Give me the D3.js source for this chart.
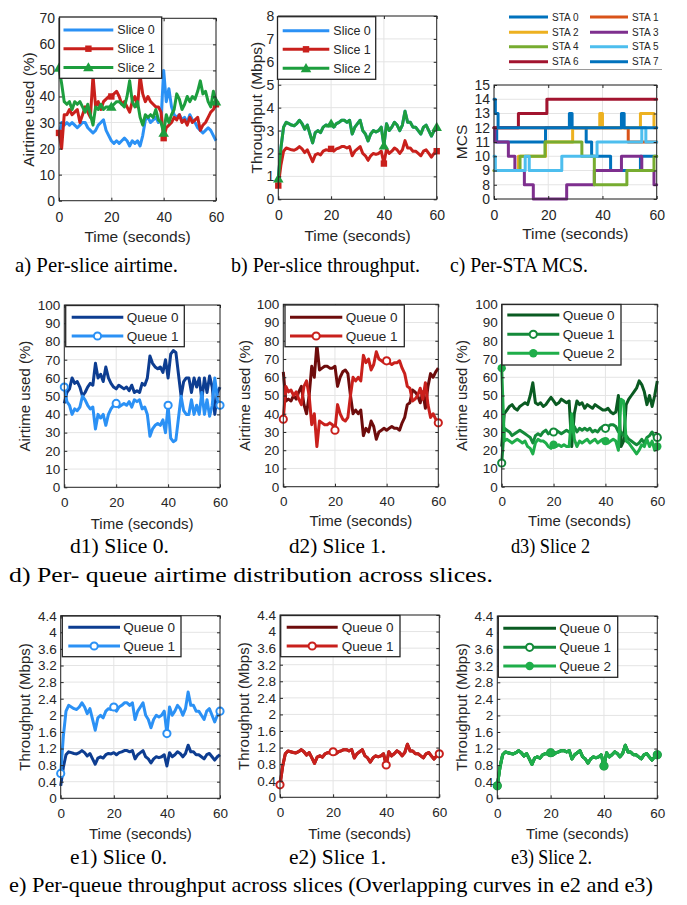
<!DOCTYPE html>
<html><head><meta charset="utf-8">
<script src="https://cdn.jsdelivr.net/npm/d3@7"></script>
<style>body{margin:0;background:#fff;} svg{display:block;}</style>
</head><body>
<svg id="fig" width="687" height="905"></svg>
<script>
// ---------------- DATA ----------------
const timeSec = [0,1,2,3,4,5,6,7,8,9,10,11,12,13,14,15,16,17,18,19,20,21,22,23,24,25,26,27,28,29,30,31,32,33,34,35,36,37,38,39,40,41,42,43,44,45,46,47,48,49,50,51,52,53,54,55,56,57,58,59,60];
const xTickValues = [0,20,40,60];
const markerIdx = [0,20,40,60];

// a) per-slice airtime (%)
const airSlice0 = [25,30,29,30,29,30,29,28,29,30, 30,28,27,26,27,29,30,31,27,25, 23,22,23,22,23,24,23,21,23,22, 23,21,25,31,32,30,31,32,30,31, 50,38,43,36,33,32,33,31,32,30, 33,31,30,28,27,26,27,28,27,25, 23];
const airSlice1 = [26,20,33,33,35,33,34,35,30,33, 36,34,32,48,36,38,35,38,39,40, 40,41,42,40,37,38,36,34,38,40, 36,48,41,38,40,38,37,36,36,34, 24,28,29,30,32,31,33,30,31,29, 32,30,31,32,27,29,30,32,34,35, 37];
const airSlice2 = [51,45,38,37,38,35,38,37,38,36, 34,37,33,29,36,35,37,35,36,36, 36,37,38,38,37,36,40,46,38,36, 38,32,29,33,32,33,32,35,31,30, 26,33,30,33,35,41,39,35,37,40, 38,40,39,42,46,41,42,38,36,42, 38];

// b) per-slice throughput (Mbps)
const tputSlice0 = [0.90,2.25,3.15,3.36,3.30,3.24,3.21,3.30,3.45,3.30, 3.06,3.24,2.85,2.46,2.91,3.00,2.91,3.15,3.24,3.21, 3.30,3.15,3.30,3.36,3.45,3.45,3.36,3.45,2.85,3.15, 3.30,3.45,3.00,2.85,2.55,2.85,3.00,2.94,3.00,3.15, 2.34,3.30,3.00,3.15,3.36,3.24,3.00,3.24,3.84,3.36, 3.36,3.15,3.15,3.00,2.85,3.15,3.24,3.00,2.76,3.00, 3.15];
const tputSlice1 = [0.60,1.50,2.10,2.24,2.20,2.16,2.14,2.20,2.30,2.20, 2.04,2.16,1.90,1.64,1.94,2.00,1.94,2.10,2.16,2.14, 2.20,2.10,2.20,2.24,2.30,2.30,2.24,2.30,1.90,2.10, 2.20,2.30,2.00,1.90,1.70,1.90,2.00,1.96,2.00,2.10, 1.56,2.20,2.00,2.10,2.24,2.16,2.00,2.16,2.56,2.24, 2.24,2.10,2.10,2.00,1.90,2.10,2.16,2.00,1.84,2.00, 2.10];
const tputSlice2 = [0.90,2.25,3.15,3.36,3.30,3.24,3.21,3.30,3.45,3.30, 3.06,3.24,2.85,2.46,2.91,3.00,2.91,3.15,3.24,3.21, 3.30,3.15,3.30,3.36,3.45,3.45,3.36,3.45,2.85,3.15, 3.30,3.45,3.00,2.85,2.55,2.85,3.00,2.94,3.00,3.15, 2.34,3.30,3.00,3.15,3.36,3.24,3.00,3.24,3.84,3.36, 3.36,3.15,3.15,3.00,2.85,3.15,3.24,3.00,2.76,3.00, 3.15];

// c) per-STA MCS, [time, mcs] step changes
const mcsSta0 = [[0,12],[1,11],[19,12],[34,11],[36,10],[43,9],[54,10],[60,10]];
const mcsSta1 = [[0,12],[49.5,11],[60,11]];
const mcsSta2 = [[0,9],[9,10],[19,11],[29,12],[39,13],[40,12],[54,13],[59,12],[60,12]];
const mcsSta3 = [[0,12],[0.3,11],[5.3,10],[7.7,9],[11.2,8],[14.5,0],[26.8,8],[37,9],[47,10],[54.5,9],[59,8],[60,8]];
const mcsSta4 = [[0,9],[9.6,10],[18.8,11],[32.4,10],[37,8],[49,9],[59,10],[60,10]];
const mcsSta5 = [[0,10],[0.5,9],[11.5,10],[13,9],[25,10],[38,11],[54.5,12],[56,11],[60,11]];
const mcsSta6 = [[0,12],[9,13],[19.5,14],[60,14]];
const mcsSta7 = [[0,14],[0.5,13],[1.5,12],[27.8,13],[28.8,12],[47,13],[48,12],[60,12]];
const mcsTickValues = [0,8,9,10,11,12,13,14,15];
const staNames = ["STA 0","STA 1","STA 2","STA 3","STA 4","STA 5","STA 6","STA 7"];

// d) per-queue airtime (%)
const d1Queue0 = [46,52,54,60,57,58,55,50,52,55, 57,56,68,60,62,58,66,60,57,55, 54,56,55,54,55,53,56,52,53,52, 57,56,60,72,68,66,65,66,63,70, 60,73,75,74,62,50,58,60,60,52, 60,55,60,48,60,52,61,55,40,52, 55];
const d1Queue1 = [55,47,45,40,43,42,44,50,48,45, 43,44,32,40,38,40,34,40,43,45, 46,44,45,46,45,47,44,48,47,48, 43,44,40,28,32,34,35,34,37,30, 45,27,25,26,38,50,42,40,40,48, 40,45,40,52,40,48,39,45,60,48, 45];
const d2Queue0 = [63,47,48,47,50,48,52,55,45,40, 50,66,60,78,64,65,66,66,65,65, 66,55,60,63,64,62,50,40,42,40, 42,28,32,30,36,33,26,30,31,32, 31,32,33,32,32,31,35,38,45,46, 53,52,50,46,52,43,55,62,60,63, 65];
const d2Queue1 = [37,55,52,53,50,52,48,45,55,58, 50,34,40,22,36,35,34,34,35,34, 31,45,40,37,36,38,50,60,58,60, 58,72,68,70,64,67,74,70,69,68, 69,68,67,68,68,69,65,62,55,54, 47,48,50,54,48,57,45,38,40,37, 35];
const d3Queue0 = [22,40,42,44,45,43,42,44,45,46, 45,50,57,46,45,46,44,45,47,49, 47,45,46,48,47,46,47,22,40,47, 45,46,43,45,44,43,45,44,43,42, 42,43,41,40,41,50,22,25,45,48, 50,52,54,58,56,52,45,50,44,50, 58];
const d3Queue1 = [13,32,31,30,28,29,30,31,30,29, 28,27,24,28,29,28,30,31,29,30, 30,31,30,29,30,31,30,30,33,30, 32,31,32,31,32,30,31,30,32,33, 32,33,34,34,33,30,30,28,28,26, 25,24,23,24,26,24,27,28,30,27, 27];
const d3Queue2 = [65,25,26,25,24,25,26,25,24,25, 22,21,18,24,26,25,25,24,22,21, 23,22,23,22,23,22,22,40,26,22, 25,24,25,26,24,25,26,24,25,26, 25,24,25,26,25,20,48,47,25,24, 22,20,18,20,23,22,26,22,25,20, 22];

// e) per-queue throughput (Mbps)
const e1Queue0 = [0.30,0.75,1.05,1.12,1.10,1.08,1.07,1.10,1.15,1.10, 1.02,1.08,0.95,0.82,0.97,1.00,0.97,1.05,1.08,1.07, 1.10,1.05,1.10,1.12,1.15,1.15,1.12,1.15,0.95,1.05, 1.10,1.15,1.00,0.95,0.85,0.95,1.00,0.98,1.00,1.05, 0.78,1.10,1.00,1.05,1.12,1.08,1.00,1.08,1.28,1.12, 1.12,1.05,1.05,1.00,0.95,1.05,1.08,1.00,0.92,1.00, 1.05];
const e1Queue1 = [0.60,1.50,2.10,2.24,2.20,2.16,2.14,2.20,2.30,2.20, 2.04,2.16,1.90,1.64,1.94,2.00,1.94,2.10,2.16,2.14, 2.20,2.10,2.20,2.24,2.30,2.30,2.24,2.30,1.90,2.10, 2.20,2.30,2.00,1.90,1.70,1.90,2.00,1.96,2.00,2.10, 1.56,2.20,2.00,2.10,2.24,2.16,2.00,2.16,2.56,2.24, 2.24,2.10,2.10,2.00,1.90,2.10,2.16,2.00,1.84,2.00, 2.10];
const e2Queue0 = [0.30,0.75,1.05,1.12,1.10,1.08,1.07,1.10,1.15,1.10, 1.02,1.08,0.95,0.82,0.97,1.00,0.97,1.05,1.08,1.07, 1.10,1.05,1.10,1.12,1.15,1.15,1.12,1.15,0.95,1.05, 1.10,1.15,1.00,0.95,0.85,0.95,1.00,0.98,1.00,1.05, 0.78,1.10,1.00,1.05,1.12,1.08,1.00,1.08,1.28,1.12, 1.12,1.05,1.05,1.00,0.95,1.05,1.08,1.00,0.92,1.00, 1.05];
const e2Queue1 = [0.30,0.75,1.05,1.12,1.10,1.08,1.07,1.10,1.15,1.10, 1.02,1.08,0.95,0.82,0.97,1.00,0.97,1.05,1.08,1.07, 1.10,1.05,1.10,1.12,1.15,1.15,1.12,1.15,0.95,1.05, 1.10,1.15,1.00,0.95,0.85,0.95,1.00,0.98,1.00,1.05, 0.78,1.10,1.00,1.05,1.12,1.08,1.00,1.08,1.28,1.12, 1.12,1.05,1.05,1.00,0.95,1.05,1.08,1.00,0.92,1.00, 1.05];
const e3Queue0 = [0.30,0.75,1.05,1.12,1.10,1.08,1.07,1.10,1.15,1.10, 1.02,1.08,0.95,0.82,0.97,1.00,0.97,1.05,1.08,1.07, 1.10,1.05,1.10,1.12,1.15,1.15,1.12,1.15,0.95,1.05, 1.10,1.15,1.00,0.95,0.85,0.95,1.00,0.98,1.00,1.05, 0.78,1.10,1.00,1.05,1.12,1.08,1.00,1.08,1.28,1.12, 1.12,1.05,1.05,1.00,0.95,1.05,1.08,1.00,0.92,1.00, 1.05];
const e3Queue1 = [0.30,0.75,1.05,1.12,1.10,1.08,1.07,1.10,1.15,1.10, 1.02,1.08,0.95,0.82,0.97,1.00,0.97,1.05,1.08,1.07, 1.10,1.05,1.10,1.12,1.15,1.15,1.12,1.15,0.95,1.05, 1.10,1.15,1.00,0.95,0.85,0.95,1.00,0.98,1.00,1.05, 0.78,1.10,1.00,1.05,1.12,1.08,1.00,1.08,1.28,1.12, 1.12,1.05,1.05,1.00,0.95,1.05,1.08,1.00,0.92,1.00, 1.05];
const e3Queue2 = [0.30,0.75,1.05,1.12,1.10,1.08,1.07,1.10,1.15,1.10, 1.02,1.08,0.95,0.82,0.97,1.00,0.97,1.05,1.08,1.07, 1.10,1.05,1.10,1.12,1.15,1.15,1.12,1.15,0.95,1.05, 1.10,1.15,1.00,0.95,0.85,0.95,1.00,0.98,1.00,1.05, 0.78,1.10,1.00,1.05,1.12,1.08,1.00,1.08,1.28,1.12, 1.12,1.05,1.05,1.00,0.95,1.05,1.08,1.00,0.92,1.00, 1.05];

const airTicks = [0,10,20,30,40,50,60,70];
const tputTicks = [0,1,2,3,4,5,6,7,8];
const pctTicks = [0,10,20,30,40,50,60,70,80,90,100];
const qTputTicks = [0,0.4,0.8,1.2,1.6,2,2.4,2.8,3.2,3.6,4,4.4];

// ---------------- STYLE ----------------
const TXT = '#262626', GRID = '#e4e4e4';
const C_S0 = '#2b91f5', C_S1 = '#c9201c', C_S2 = '#1d9e3e';
const C_B0 = '#0d3d91', C_B1 = '#2b91f5';
const C_R0 = '#6e0c0c', C_R1 = '#c9201c';
const C_G0 = '#0a5b22', C_G1 = '#148a3a', C_G2 = '#1fae4a';
const STA_COLORS = ['#0072BD','#D95319','#EDB120','#7E2F8E','#77AC30','#4DBEEE','#A2142F','#0072BD'];
const SANS = "'Liberation Sans', Arial, Helvetica, sans-serif";
const SERIF = "'Liberation Serif', 'Times New Roman', serif";

const svg = d3.select('#fig');
svg.append('rect').attr('width',687).attr('height',905).attr('fill','#fff');

function drawMarker(g, type, color, cx, cy) {
  if (!type) return;
  if (type === 'square') {
    g.append('rect').attr('x', cx-3.2).attr('y', cy-3.2).attr('width',6.4).attr('height',6.4).attr('fill',color);
  } else if (type === 'triangle') {
    g.append('path').attr('d', d3.symbol(d3.symbolTriangle).size(48)()).attr('transform',`translate(${cx},${cy+0.8})`).attr('fill',color);
  } else if (type === 'circleOpen') {
    g.append('circle').attr('cx',cx).attr('cy',cy).attr('r',3.6).attr('fill','#fff').attr('stroke',color).attr('stroke-width',2);
  } else if (type === 'circleFilled') {
    g.append('circle').attr('cx',cx).attr('cy',cy).attr('r',4.2).attr('fill',color);
  }
}

function panel(o) {
  const g = svg.append('g');
  const x = d3.scaleLinear().domain([0,60]).range([o.left, o.right]);
  const y = o.y;
  g.selectAll('line.gx').data(xTickValues).join('line').attr('class','gx')
    .attr('x1',d=>x(d)).attr('x2',d=>x(d)).attr('y1',o.top).attr('y2',o.bottom)
    .attr('stroke',GRID).attr('stroke-width',1);
  g.selectAll('line.gy').data(o.yTicks).join('line').attr('class','gy')
    .attr('x1',o.left).attr('x2',o.right).attr('y1',d=>y(d)).attr('y2',d=>y(d))
    .attr('stroke',GRID).attr('stroke-width',1);
  const sg = g.append('g');
  o.series.forEach(s => {
    if (s.steps) {
      const line = d3.line().x(d=>x(d[0])).y(d=>y(d[1])).curve(d3.curveStepAfter);
      sg.append('path').attr('d', line(s.steps)).attr('fill','none').attr('stroke',s.color)
        .attr('stroke-width',s.width||3).attr('stroke-linejoin','round').attr('stroke-linecap','round');
    } else {
      const line = d3.line().x((d,i)=>x(timeSec[i])).y(d=>y(d));
      sg.append('path').attr('d', line(s.values)).attr('fill','none').attr('stroke',s.color)
        .attr('stroke-width',s.width||3).attr('stroke-linejoin','round');
      if (s.marker) markerIdx.forEach(i => drawMarker(sg, s.marker, s.color, x(timeSec[i]), y(s.values[i])));
    }
  });
  g.append('rect').attr('x',o.left).attr('y',o.top).attr('width',o.right-o.left).attr('height',o.bottom-o.top)
    .attr('fill','none').attr('stroke',TXT).attr('stroke-width',1);
  const tf = o.tickFont;
  const ax = g.append('g').attr('transform',`translate(0,${o.bottom})`)
    .call(d3.axisBottom(x).tickValues(xTickValues).tickSize(-3).tickPadding(o.xPad));
  const ay = g.append('g').attr('transform',`translate(${o.left},0)`)
    .call(d3.axisLeft(y).tickValues(o.yTicks).tickSize(-3).tickPadding(4).tickFormat(o.yFmt || (d=>String(d))));
  const at = g.append('g').attr('transform',`translate(0,${o.top})`)
    .call(d3.axisTop(x).tickValues(xTickValues).tickSize(-3).tickFormat(''));
  const ar = g.append('g').attr('transform',`translate(${o.right},0)`)
    .call(d3.axisRight(y).tickValues(o.yTicks).tickSize(-3).tickFormat(''));
  [ax,ay,at,ar].forEach(a => {
    a.select('.domain').remove();
    a.selectAll('line').attr('stroke',TXT);
    a.selectAll('text').attr('fill',TXT).style('font-family',SANS).style('font-size',tf+'px');
  });
  g.append('text').attr('x',(o.left+o.right)/2).attr('y',o.xLabelY).attr('text-anchor','middle')
    .attr('fill',TXT).style('font-family',SANS).style('font-size',o.labelFont+'px').text('Time (seconds)');
  const cy = (o.top+o.bottom)/2;
  g.append('text').attr('transform',`translate(${o.yLabelX},${cy}) rotate(-90)`).attr('dy','0.35em')
    .attr('text-anchor','middle').attr('fill',TXT).style('font-family',SANS).style('font-size',o.labelFont+'px').text(o.yLabel);
  if (o.legend) {
    const L = o.legend;
    g.append('rect').attr('x',L.x0).attr('y',L.y0).attr('width',L.x1-L.x0).attr('height',L.y1-L.y0)
      .attr('fill','#fff').attr('stroke',TXT).attr('stroke-width',1.3);
    L.items.forEach((it,k) => {
      const yy = L.ys[k];
      g.append('line').attr('x1',L.lx0).attr('x2',L.lx1).attr('y1',yy).attr('y2',yy)
        .attr('stroke',it.color).attr('stroke-width',3);
      drawMarker(g, it.marker, it.color, (L.lx0+L.lx1)/2, yy);
      g.append('text').attr('x',L.tx).attr('y',yy).attr('dy','0.35em').attr('fill',TXT)
        .style('font-family',SANS).style('font-size',L.font+'px').text(it.label);
    });
  }
}

const lin = (dom, r0, r1) => d3.scaleLinear().domain(dom).range([r0, r1]);

panel({left:59,right:216,top:18.3,bottom:200.7,y:lin([0,70],200.7,18.3),yTicks:airTicks,
  yLabel:'Airtime used (%)',yLabelX:28.3,xLabelY:242,tickFont:14,labelFont:15.5,xPad:11,
  series:[{values:airSlice0,color:C_S0},{values:airSlice1,color:C_S1,marker:'square'},{values:airSlice2,color:C_S2,marker:'triangle'}],
  legend:{x0:59.5,y0:17,x1:161.7,y1:78.3,ys:[30,48.7,67.5],lx0:63.5,lx1:113.3,tx:117.3,font:12.5,
    items:[{label:'Slice 0',color:C_S0},{label:'Slice 1',color:C_S1,marker:'square'},{label:'Slice 2',color:C_S2,marker:'triangle'}]}});
panel({left:278.3,right:436.7,top:16,bottom:199.3,y:lin([0,8],199.3,16),yTicks:tputTicks,
  yLabel:'Throughput (Mbps)',yLabelX:256.7,xLabelY:240.5,tickFont:14,labelFont:15.5,xPad:11,
  series:[{values:tputSlice0,color:C_S0},{values:tputSlice1,color:C_S1,marker:'square'},{values:tputSlice2,color:C_S2,marker:'triangle'}],
  legend:{x0:277.5,y0:16.7,x1:375.7,y1:79.3,ys:[30.7,49.3,68.3],lx0:282.7,lx1:329.3,tx:333.3,font:12.5,
    items:[{label:'Slice 0',color:C_S0},{label:'Slice 1',color:C_S1,marker:'square'},{label:'Slice 2',color:C_S2,marker:'triangle'}]}});
const mcsY = d3.scalePoint().domain(mcsTickValues).range([199,85]);
const mcsAll = [mcsSta0,mcsSta1,mcsSta2,mcsSta3,mcsSta4,mcsSta5,mcsSta6,mcsSta7];
panel({left:494,right:656.7,top:85,bottom:199,y:mcsY,yTicks:mcsTickValues,
  yLabel:'MCS',yLabelX:462,xLabelY:238.5,tickFont:14,labelFont:15.5,xPad:11,
  series: mcsAll.map((s,i)=>({steps:s,color:STA_COLORS[i]}))});
(function(){
  const g = svg.append('g');
  const rows = [17,32.3,46.7,61.7];
  staNames.forEach((nm,i) => {
    const col = i%2, row = Math.floor(i/2);
    const lx0 = col===0 ? 509 : 590, lx1 = col===0 ? 548 : 628, tx = col===0 ? 552 : 632;
    g.append('line').attr('x1',lx0).attr('x2',lx1).attr('y1',rows[row]).attr('y2',rows[row])
      .attr('stroke',STA_COLORS[i]).attr('stroke-width',3);
    g.append('text').attr('x',tx).attr('y',rows[row]).attr('dy','0.35em').attr('fill',TXT)
      .style('font-family',SANS).style('font-size','10px').text(nm);
  });
  g.append('line').attr('x1',509).attr('x2',662).attr('y1',69.5).attr('y2',69.5).attr('stroke','#9a9a9a').attr('stroke-width',1);
})();

const qItems2 = (c0,c1) => [{label:'Queue 0',color:c0},{label:'Queue 1',color:c1,marker:'circleOpen'}];
const qItems3 = [{label:'Queue 0',color:C_G0},{label:'Queue 1',color:C_G1,marker:'circleOpen'},{label:'Queue 2',color:C_G2,marker:'circleFilled'}];
panel({left:64.3,right:220,top:305,bottom:487.3,y:lin([0,100],487.3,305),yTicks:pctTicks,
  yLabel:'Airtime used (%)',yLabelX:25,xLabelY:528.5,tickFont:13.5,labelFont:15,xPad:10,
  series:[{values:d1Queue0,color:C_B0},{values:d1Queue1,color:C_B1,marker:'circleOpen'}],
  legend:{x0:65.7,y0:305.5,x1:184.3,y1:346.7,ys:[317.3,336],lx0:71.7,lx1:123.3,tx:126.7,font:13.5,items:qItems2(C_B0,C_B1)}});
panel({left:283.3,right:438.3,top:304.3,bottom:486.7,y:lin([0,100],486.7,304.3),yTicks:pctTicks,
  yLabel:'Airtime used (%)',yLabelX:245,xLabelY:526,tickFont:13.5,labelFont:15,xPad:10,
  series:[{values:d2Queue0,color:C_R0},{values:d2Queue1,color:C_R1,marker:'circleOpen'}],
  legend:{x0:285,y0:305,x1:404.3,y1:346.7,ys:[317.3,336],lx0:290,lx1:342.3,tx:345.7,font:13.5,items:qItems2(C_R0,C_R1)}});
panel({left:501.7,right:657.3,top:304.3,bottom:486.7,y:lin([0,100],486.7,304.3),yTicks:pctTicks,
  yLabel:'Airtime used (%)',yLabelX:461.7,xLabelY:525.5,tickFont:13.5,labelFont:15,xPad:10,
  series:[{values:d3Queue0,color:C_G0},{values:d3Queue1,color:C_G1,marker:'circleOpen'},{values:d3Queue2,color:C_G2,marker:'circleFilled'}],
  legend:{x0:502,y0:304.5,x1:621,y1:365,ys:[315,334.3,353.3],lx0:507.3,lx1:559.3,tx:562.7,font:13.5,items:qItems3}});

panel({left:60.7,right:220,top:615.7,bottom:798.3,y:lin([0,4.4],798.3,615.7),yTicks:qTputTicks,
  yLabel:'Throughput (Mbps)',yLabelX:25,xLabelY:838.5,tickFont:13.5,labelFont:15,xPad:10,
  series:[{values:e1Queue0,color:C_B0},{values:e1Queue1,color:C_B1,marker:'circleOpen'}],
  legend:{x0:62.3,y0:616,x1:181,y1:656.7,ys:[627.3,646],lx0:68.3,lx1:120,tx:123.3,font:13.5,items:qItems2(C_B0,C_B1)}});
panel({left:280,right:439.3,top:615,bottom:797.3,y:lin([0,4.4],797.3,615),yTicks:qTputTicks,
  yLabel:'Throughput (Mbps)',yLabelX:243.3,xLabelY:838.5,tickFont:13.5,labelFont:15,xPad:10,
  series:[{values:e2Queue0,color:C_R0},{values:e2Queue1,color:C_R1,marker:'circleOpen'}],
  legend:{x0:280.7,y0:615.5,x1:400,y1:656.7,ys:[627.3,646],lx0:286.7,lx1:337.7,tx:341.7,font:13.5,items:qItems2(C_R0,C_R1)}});
panel({left:497.3,right:657.3,top:616,bottom:798.3,y:lin([0,4.4],798.3,616),yTicks:qTputTicks,
  yLabel:'Throughput (Mbps)',yLabelX:461.7,xLabelY:838.5,tickFont:13.5,labelFont:15,xPad:10,
  series:[{values:e3Queue0,color:C_G0},{values:e3Queue1,color:C_G1,marker:'circleOpen'},{values:e3Queue2,color:C_G2,marker:'circleFilled'}],
  legend:{x0:498.3,y0:616.3,x1:617.7,y1:677.3,ys:[628.3,647.3,666],lx0:503.3,lx1:556,tx:559.3,font:13.5,items:qItems3}});

// captions (widths matched to the reference)
const captions = [
  {t:'a) Per-slice airtime.', x:15, y:272, w:163},
  {t:'b) Per-slice throughput.', x:231, y:272, w:189},
  {t:'c) Per-STA MCS.', x:450, y:272, w:138},
  {t:'d1) Slice 0.', x:70, y:553, w:99},
  {t:'d2) Slice 1.', x:289, y:553, w:97},
  {t:'d3) Slice 2', x:511, y:553, w:79},
  {t:'d) Per- queue airtime distribution across slices.', x:9, y:582, w:484},
  {t:'e1) Slice 0.', x:70, y:864, w:97},
  {t:'e2) Slice 1.', x:289, y:864, w:97},
  {t:'e3) Slice 2.', x:511, y:864, w:81},
  {t:'e) Per-queue throughput across slices (Overlapping curves in e2 and e3)', x:9, y:892, w:644}
];
svg.append('g').selectAll('text').data(captions).join('text')
  .attr('x',d=>d.x).attr('y',d=>d.y).attr('fill','#000')
  .attr('textLength',d=>d.w).attr('lengthAdjust','spacingAndGlyphs')
  .style('font-family',SERIF).style('font-size','21px').text(d=>d.t);
</script>
</body></html>
